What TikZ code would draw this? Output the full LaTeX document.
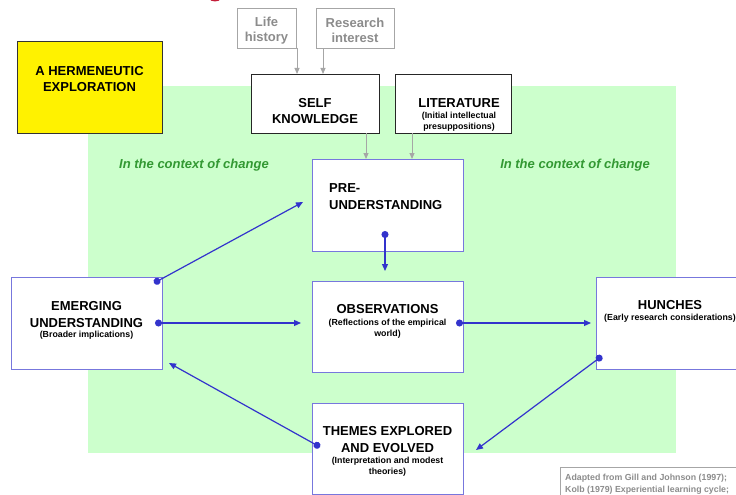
\documentclass[tikz,border=0pt]{standalone}
\usepackage{fontspec}
\setmainfont{Liberation Sans}
\usetikzlibrary{arrows.meta}
\definecolor{bggreen}{HTML}{CCFFCC}
\definecolor{linkblue}{HTML}{3333CC}
\definecolor{boxblue}{HTML}{7777DD}
\definecolor{ctxgreen}{HTML}{339933}
\definecolor{lightgray}{HTML}{A6A6A6}
\definecolor{textgray}{HTML}{8C8C8C}
\definecolor{logored}{HTML}{C41E3A}
\tikzset{
  bluebox/.style={draw=boxblue, line width=1pt, fill=white, inner sep=0pt},
  blackbox/.style={draw=black!85, line width=0.8pt, fill=white, inner sep=0pt},
  graybox/.style={draw=lightgray, line width=0.8pt, fill=white, inner sep=0pt},
  title/.style={font=\bfseries\fontsize{13}{16.5}\selectfont, align=center, inner sep=0pt},
  sub/.style={font=\bfseries\fontsize{8.8}{11}\selectfont, align=center, inner sep=0pt},
  graytitle/.style={font=\bfseries\fontsize{13}{15}\selectfont, text=textgray, align=center, inner sep=0pt},
  ctx/.style={font=\bfseries\itshape\fontsize{13}{14}\selectfont, text=ctxgreen, inner sep=0pt},
  link/.style={draw=linkblue, line width=1.2pt, {Circle[length=7pt]}-{Triangle[length=7pt,width=6pt]}},
  grayarrow/.style={draw=lightgray, line width=1pt, -{Triangle[length=6pt,width=5pt]}},
}
\begin{document}
\begin{tikzpicture}[x=1pt,y=-1pt]
\useasboundingbox (0,0) rectangle (736,495);
\clip (0,0) rectangle (736,495);
% red fragment at top
\fill[logored] (215,-8) ellipse (9 and 9.5);
% green background
\fill[bggreen] (88,86) rectangle (676,453);
% yellow title box
\node[draw=black!80, line width=0.8pt, fill=yellow, minimum width=145, minimum height=92, inner sep=0pt] (hermbox) at (89.5,87) {};
\node[title] (herm) at (89.5,79) {A HERMENEUTIC\\EXPLORATION};
% top gray boxes
\node[graybox, minimum width=59, minimum height=40] (life) at (266.5,28) {};
\node[graytitle] (lifet) at (266.5,30.5) {Life\\history};
\node[graybox, minimum width=78, minimum height=40] (research) at (355,28) {};
\node[graytitle] (researcht) at (355,30.5) {Research\\interest};
% self knowledge and literature
\node[blackbox, minimum width=128, minimum height=59] (self) at (315,103.5) {};
\node[title] (selft) at (315,111) {SELF\\KNOWLEDGE};
\node[blackbox, minimum width=116, minimum height=59] (lit) at (453,103.5) {};
\node[title] (litt) at (459,103) {LITERATURE};
\node[sub] (lits) at (459,122) {(Initial intellectual\\presuppositions)};
% gray arrows
\coordinate (la) at (297,48.5);
\coordinate (ra) at (323,48.5);
\draw[grayarrow] (la) -- (297,74);
\draw[grayarrow] (ra) -- (323,74);
\draw[grayarrow] (366,133) -- (366,159);
\draw[grayarrow] (412,133) -- (412,159);
% context labels
\node[ctx] (ctxl) at (194,165) {In the context of change};
\node[ctx] (ctxr) at (575,165) {In the context of change};
% pre-understanding
\node[bluebox, minimum width=151, minimum height=92] (pre) at (387.5,205) {};
\node[title, align=left, anchor=west] (pret) at (329,196.5) {PRE-\\UNDERSTANDING};
% observations
\node[bluebox, minimum width=151, minimum height=91] (obs) at (387.5,326.5) {};
\node[title] (obst) at (387.5,309.5) {OBSERVATIONS};
\node[sub] (obss) at (387.5,329) {(Reflections of the empirical\\world)};
% emerging understanding
\node[bluebox, minimum width=151, minimum height=92] (emerg) at (86.5,323) {};
\node[title] (emergt) at (86.5,314.5) {EMERGING\\UNDERSTANDING};
\node[sub] (emergs) at (86.5,335.5) {(Broader implications)};
% hunches
\node[bluebox, minimum width=150, minimum height=92] (hunch) at (671,323) {};
\node[title] (huncht) at (670,305) {HUNCHES};
\node[sub] (hunchs) at (670,318) {(Early research considerations)};
% themes
\node[bluebox, minimum width=151, minimum height=91] (themes) at (387.5,448.5) {};
\node[title] (themest) at (387.5,439.5) {THEMES EXPLORED\\AND EVOLVED};
\node[sub] (themess) at (387.5,467) {(Interpretation and modest\\theories)};
% blue links
\coordinate (d1) at (154,283); \coordinate (e1) at (303,202);
\coordinate (d2) at (155,323); \coordinate (e2) at (301,323);
\coordinate (d3) at (456,323); \coordinate (e3) at (591,323);
\coordinate (d4) at (602,356); \coordinate (e4) at (476,450);
\coordinate (d5) at (320,447); \coordinate (e5) at (169,363);
\coordinate (d6) at (385,231); \coordinate (e6) at (385,271);
\draw[link] (d1) -- (e1);
\draw[link] (d2) -- (e2);
\draw[link] (d3) -- (e3);
\draw[link] (d4) -- (e4);
\draw[link] (d5) -- (e5);
\draw[link] (d6) -- (e6);
% source note
\node[draw=lightgray, line width=0.8pt, fill=white, minimum width=190, minimum height=40, inner sep=0pt] (notebox) at (655,487) {};
\node[font=\bfseries\fontsize{8.8}{12}\selectfont, text=textgray, align=left, anchor=west, inner sep=0pt] (note) at (565,484) {Adapted from Gill and Johnson (1997);\\Kolb (1979) Experiential learning cycle;};
\end{tikzpicture}
\end{document}
